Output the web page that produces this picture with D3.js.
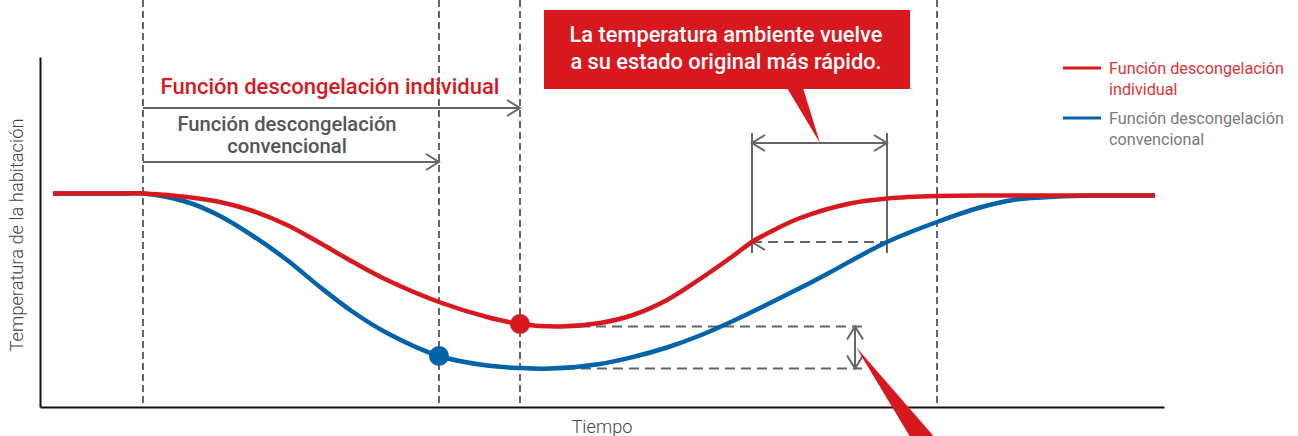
<!DOCTYPE html>
<html><head><meta charset="utf-8">
<script src="https://cdn.jsdelivr.net/npm/d3@7"></script>
<style>
html,body{margin:0;padding:0;background:#fff;}
svg{display:block;font-family:Roboto,"Noto Sans",sans-serif;}
</style></head><body>
<svg id="chart" width="1298" height="436"></svg>
<script>
// Room temperature over time during defrost (arbitrary units)
const timeIndividual = [1.3,5,8,10.3,14.7,18,21.3,24.7,28,31.3,34.7,39.9,44.7,48,52,56,59.3,62.7,66,69.3,71.2,73.6,76,81,84.7,89.7,96,104,111.5];
const tempIndividual = [21.35,21.35,21.35,21.35,21,20.5,19.6,18.2,16.4,14.5,12.7,10.5,9,8.3,8.05,8.4,9.2,10.7,12.8,15.1,16.5,17.8,18.9,20.35,20.85,21.1,21.15,21.15,21.15];

const timeConventional = [1.3,5,8,10.3,14.7,18,21.3,24.7,28,31.3,34.7,39.9,44.7,48,51,56,59.3,62.7,66,69.3,72.7,76,78.7,84.7,89.7,94,97.3,101.7,106,111.5];
const tempConventional = [21.35,21.35,21.35,21.35,20.5,19.1,17.1,14.7,12,9.5,7.4,5.1,4.15,3.9,3.85,4.3,5,5.95,7.15,8.6,10.25,11.9,13.3,16.5,18.5,19.95,20.7,21.05,21.15,21.15];

// Phase boundaries: defrost start, end of conventional defrost, end of individual defrost, recovery complete
const phaseTimes = [10.3, 39.9, 48, 89.7];
const endConventional = 39.9;
const endIndividual = 48;
// Temperature level used to compare recovery speed
const recoveryLevel = 16.5;
const recoveryTimes = [71.2, 84.7];

const seriesNames = ["Función descongelación individual", "Función descongelación convencional"];
const axisTitles = {x: "Tiempo", y: "Temperatura de la habitación"};
const calloutLines = ["La temperatura ambiente vuelve", "a su estado original más rápido."];

const RED = "#d7191f", BLUE = "#0062a8", GRAY = "#666666";

const svg = d3.select("#chart");
const x = d3.scaleLinear().domain([0, 112.4]).range([40, 1164]);
const y = d3.scaleLinear().domain([0, 35]).range([407, 57]);

const red = timeIndividual.map((t, i) => [t, tempIndividual[i]]);
const blue = timeConventional.map((t, i) => [t, tempConventional[i]]);
const line = d3.line().x(d => x(d[0])).y(d => y(d[1])).curve(d3.curveCatmullRom.alpha(0.5));

function chevron(g, px, py, dir) {
  const L = 13, W = 8;
  let p;
  if (dir === "right") p = [[px - L, py - W], [px, py], [px - L, py + W]];
  if (dir === "left") p = [[px + L, py - W], [px, py], [px + L, py + W]];
  if (dir === "up") p = [[px - W, py + L], [px, py], [px + W, py + L]];
  if (dir === "down") p = [[px - W, py - L], [px, py], [px + W, py - L]];
  g.append("path").attr("d", d3.line()(p)).attr("fill", "none")
    .attr("stroke", GRAY).attr("stroke-width", 2);
}
function seg(g, x1, y1, x2, y2, dash) {
  const l = g.append("line").attr("x1", x1).attr("y1", y1).attr("x2", x2).attr("y2", y2)
    .attr("stroke", GRAY).attr("stroke-width", 2);
  if (dash) l.attr("stroke-dasharray", dash);
  return l;
}

// Phase guides
const guides = svg.append("g");
phaseTimes.forEach(t => seg(guides, x(t), 0, x(t), 405, "7,4"));

// Axes (no ticks)
const axisG = svg.append("g");
const xAxis = d3.axisBottom(x).tickValues([]).tickSizeOuter(0);
const yAxis = d3.axisLeft(y).tickValues([]).tickSizeOuter(0);
axisG.append("g").attr("transform", `translate(0,${y(0)})`).call(xAxis)
  .select(".domain").attr("stroke", "#111").attr("stroke-width", 2);
axisG.append("g").attr("transform", `translate(${x(0)},0)`).call(yAxis)
  .select(".domain").attr("stroke", "#111").attr("stroke-width", 2);

svg.append("text").attr("x", 602).attr("y", 433).attr("text-anchor", "middle")
  .attr("font-size", 18.3).attr("font-weight", 300).attr("fill", "#444").text(axisTitles.x);
svg.append("text").attr("transform", "translate(23,235) rotate(-90)").attr("text-anchor", "middle")
  .attr("font-size", 18.3).attr("font-weight", 300).attr("fill", "#444").text(axisTitles.y);

// Duration arrows
const ann = svg.append("g");
const yInd = 108, yConv = 162;
seg(ann, x(phaseTimes[0]), yInd, x(endIndividual), yInd);
chevron(ann, x(endIndividual), yInd, "right");
seg(ann, x(phaseTimes[0]), yConv, x(endConventional), yConv);
chevron(ann, x(endConventional), yConv, "right");

ann.append("text").attr("x", 330).attr("y", 94).attr("text-anchor", "middle")
  .attr("font-size", 22).attr("font-weight", 500).attr("fill", RED).text(seriesNames[0]);
const conv = ann.append("text").attr("text-anchor", "middle")
  .attr("font-size", 20.2).attr("font-weight", 500).attr("fill", "#555");
conv.append("tspan").attr("x", 287).attr("y", 131).text("Función descongelación");
conv.append("tspan").attr("x", 287).attr("y", 153).text("convencional");

// Recovery-time bracket
const rx1 = x(recoveryTimes[0]), rx2 = x(recoveryTimes[1]), ry = y(recoveryLevel);
seg(ann, rx1, 133, rx1, 253);
seg(ann, rx2, 133, rx2, 253);
seg(ann, rx1, 143, rx2, 143);
chevron(ann, rx1, 143, "left");
chevron(ann, rx2, 143, "right");
seg(ann, rx1, ry, rx2, ry, "10,6");
chevron(ann, rx1, ry, "left");

// Minimum-temperature gap
const minRed = d3.min(tempIndividual), minBlue = d3.min(tempConventional);
const gapX = x(81.5);
seg(ann, x(54), y(minRed), x(82.2), y(minRed), "10,6");
seg(ann, x(52.5), y(minBlue), x(82.2), y(minBlue), "10,6");
seg(ann, gapX, y(minRed), gapX, y(minBlue));
chevron(ann, gapX, y(minRed), "up");
chevron(ann, gapX, y(minBlue), "down");

// Curves
svg.append("path").datum(blue).attr("d", line).attr("fill", "none")
  .attr("stroke", BLUE).attr("stroke-width", 4.5);
svg.append("path").datum(red).attr("d", line).attr("fill", "none")
  .attr("stroke", RED).attr("stroke-width", 4.5);

// End-of-defrost markers
const blueEnd = blue[timeConventional.indexOf(endConventional)];
const redEnd = red[timeIndividual.indexOf(endIndividual)];
svg.append("circle").attr("cx", x(blueEnd[0])).attr("cy", y(blueEnd[1])).attr("r", 10).attr("fill", BLUE);
svg.append("circle").attr("cx", x(redEnd[0])).attr("cy", y(redEnd[1])).attr("r", 10).attr("fill", RED);

// Callout
const callout = svg.append("g");
callout.append("path").attr("d", "M787,88 L820,143 L803,88 Z").attr("fill", RED);
callout.append("rect").attr("x", 544).attr("y", 10).attr("width", 366).attr("height", 79).attr("fill", RED);
const ct = callout.append("text").attr("text-anchor", "middle")
  .attr("font-size", 21.8).attr("font-weight", 500).attr("fill", "#fff");
calloutLines.forEach((s, i) => ct.append("tspan").attr("x", 726).attr("y", 42 + i * 27).text(s));
// Tail of lower callout pointing at the gap
callout.append("path").attr("d", `M${gapX + 1},347 L912,440 L937,440 Z`).attr("fill", RED);

// Legend
const legend = svg.append("g");
const legendItems = [
  {color: RED, text: "#e0333a", lines: ["Función descongelación", "individual"], y: 68},
  {color: BLUE, text: "#7a7a7a", lines: ["Función descongelación", "convencional"], y: 118}
];
legendItems.forEach(d => {
  legend.append("line").attr("x1", 1063).attr("x2", 1101).attr("y1", d.y).attr("y2", d.y)
    .attr("stroke", d.color).attr("stroke-width", 3);
  const t = legend.append("text").attr("font-size", 16.2).attr("fill", d.text);
  d.lines.forEach((s, i) => t.append("tspan").attr("x", 1109).attr("y", d.y + 6 + i * 21).text(s));
});
</script>
</body></html>
